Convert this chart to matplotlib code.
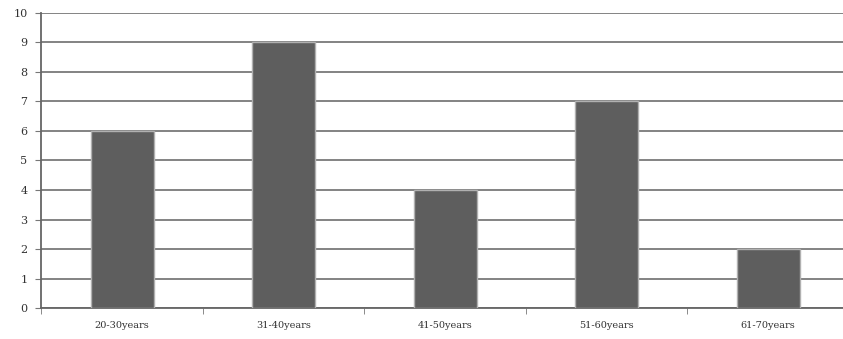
import matplotlib.pyplot as plt
import numpy as np

categories = ['20-30years', '31-40years', '41-50years', '51-60years', '61-70years']
counts = [6, 9, 4, 7, 2]

fig = plt.figure(figsize=(8.43, 3.39), dpi=100)
ax = fig.add_axes([0.049, 0.0914, 0.958, 0.8703])

x = np.arange(len(categories))
ax.bar(x, counts, width=0.39, color='#5e5e5e', edgecolor='#b0b0b0', linewidth=1, zorder=3)

ax.set_xlim(-0.5, len(categories) - 0.5)
ax.set_ylim(0, 10)
ax.set_yticks(range(0, 11))
ax.yaxis.grid(True, color='#7a7a7a', linewidth=1.3, zorder=0)

ax.set_xticks(x)
ax.set_xticklabels(categories, fontsize=7, family='DejaVu Serif', color='#333333')
ax.set_xticks(np.arange(-0.5, len(categories)), minor=True)
ax.tick_params(axis='x', which='major', length=0, pad=9)
ax.tick_params(axis='x', which='minor', length=4, color='#777777')
ax.tick_params(axis='y', length=4, color='#777777', labelsize=8, pad=6, labelcolor='#333333')
for lab in ax.get_yticklabels():
    lab.set_family('DejaVu Serif')

for side in ['top', 'right']:
    ax.spines[side].set_visible(False)
ax.spines['left'].set_color('#666666')
ax.spines['bottom'].set_color('#666666')
ax.spines['left'].set_linewidth(1.3)
ax.spines['bottom'].set_linewidth(1.3)

fig.savefig('out.png', dpi=100)
